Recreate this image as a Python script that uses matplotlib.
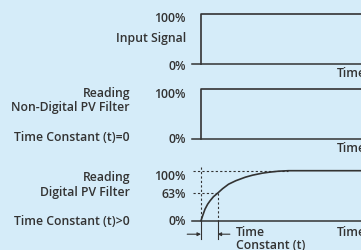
import matplotlib.pyplot as plt

W, H = 361, 251
BG = '#d5ecf9'
INK = '#333333'
FONT = 'Open Sans'

# step signals (time in time-constant units, level in %)
step_t = [0, 0, 10]
step_y = [0, 100, 100]

# filtered reading
filt_t = [0, 0.1, 0.24, 0.4, 0.55, 0.75, 1.0, 1.3, 1.66, 2.1,
          2.67, 3.1, 3.68, 4.1, 4.67, 5.27, 10]
filt_y = [0, 10, 23, 33, 40, 48, 55, 64, 73, 80,
          87, 91, 95, 97, 99, 100, 100]

# schematic level of the 63% mark on the drawn axis
tau_level = 55
tau = 1.0


def fx(x):
    return x / W


def fy(y):
    return 1 - y / H


plt.rcParams['font.family'] = FONT
fig = plt.figure(figsize=(W / 100, H / 100), dpi=100)
fig.patch.set_facecolor(BG)

ppu = 16.6  # pixels per time constant
left_px = 192
xlim = (-(201 - left_px) / ppu, (W - 201) / ppu)

panel_tops = [15, 90, 171.7]
axes = []
for top in panel_tops:
    ax = fig.add_axes([fx(left_px), fy(top + 50), 1 - fx(left_px), 50 / H])
    ax.set_xlim(*xlim)
    ax.set_ylim(0, 100)
    ax.axis('off')
    ax.axhline(0, color=INK, lw=1.1, clip_on=False)
    axes.append(ax)

# input signal and non-digital reading
for ax in axes[:2]:
    ax.plot(step_t, step_y, color=INK, lw=1.2, clip_on=False)

# digital filter reading
ax = axes[2]
dash = (0, (2, 2))
ax.plot(filt_t, filt_y, color=INK, lw=1.2, clip_on=False, solid_joinstyle='round')
ax.plot([xlim[0] + 0.06, 5.27], [100, 100], color=INK, lw=0.8, ls=dash, clip_on=False)
ax.plot([xlim[0] + 0.06, tau], [tau_level, tau_level], color=INK, lw=0.8, ls=dash, clip_on=False)
ax.plot([0, 0], [108, 0], color=INK, lw=0.8, ls=dash, clip_on=False)
ax.plot([tau, tau], [tau_level, 0], color=INK, lw=0.8, ls=dash, clip_on=False)
for xv in [0, tau]:
    ax.plot([xv, xv], [0, -37], color=INK, lw=0.8, clip_on=False)
ax.annotate('', xy=(0, -27), xytext=(-0.83, -27),
            arrowprops=dict(arrowstyle='-|>', color=INK, lw=0.8,
                            mutation_scale=5, shrinkA=0, shrinkB=0),
            annotation_clip=False)
ax.annotate('', xy=(tau, -27), xytext=(tau + 0.74, -27),
            arrowprops=dict(arrowstyle='-|>', color=INK, lw=0.8,
                            mutation_scale=5, shrinkA=0, shrinkB=0),
            annotation_clip=False)

fs = 8.8
kw = dict(color=INK, fontsize=fs, ha='right', va='center', fontweight='semibold')

# level labels
fig.text(fx(186), fy(18.3), '100%', **kw)
fig.text(fx(186), fy(38.3), 'Input Signal', **kw)
fig.text(fx(186), fy(66.5), '0%', **kw)
fig.text(fx(186), fy(94), '100%', **kw)
fig.text(fx(186), fy(140), '0%', **kw)
fig.text(fx(186), fy(176), '100%', **kw)
fig.text(fx(186), fy(195), '63%', **kw)
fig.text(fx(186), fy(221.7), '0%', **kw)

# row labels
fig.text(fx(130), fy(94), 'Reading', **kw)
fig.text(fx(130), fy(107.7), 'Non-Digital PV Filter', **kw)
fig.text(fx(130), fy(137.7), 'Time Constant (t)=0', **kw)
fig.text(fx(130), fy(177.3), 'Reading', **kw)
fig.text(fx(130), fy(192.7), 'Digital PV Filter', **kw)
fig.text(fx(130), fy(221.7), 'Time Constant (t)>0', **kw)

# time axis labels (the reference crops these at the right edge)
lkw = dict(color=INK, fontsize=fs, ha='left', va='center', fontweight='semibold')
for yv in [74, 148.3, 232.3]:
    fig.text(fx(336.5), fy(yv), 'Time', **lkw)
fig.text(fx(236), fy(232.3), 'Time', **lkw)
fig.text(fx(236), fy(245.5), 'Constant (t)', **lkw)

fig.savefig('out.png', dpi=100, facecolor=BG)
